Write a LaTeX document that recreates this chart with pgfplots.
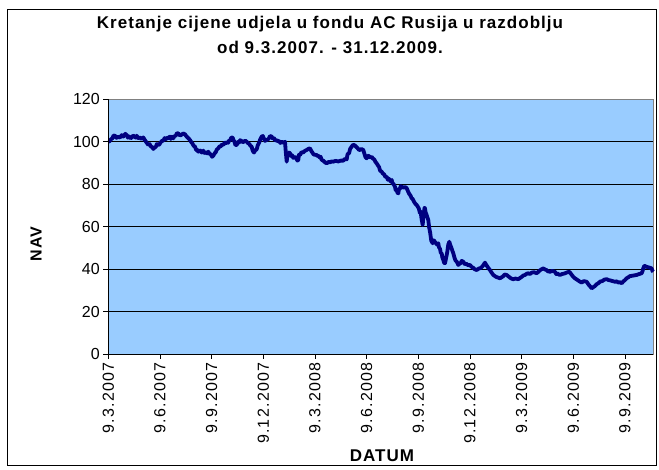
\documentclass[border=0pt]{standalone}
\usepackage{pgfplots}
\pgfplotsset{compat=1.18}
\usepackage{fontspec}
\setmainfont{Liberation Sans}
\definecolor{plotbg}{RGB}{153,204,255}
\definecolor{navyline}{RGB}{0,0,128}
\begin{document}
\begin{tikzpicture}[x=1pt,y=1pt]
\path[use as bounding box] (0,0) rectangle (659,470);
\draw[line width=1pt] (7.5,4) rectangle (656,460);
\node[align=center,font=\fontsize{17}{25}\selectfont\bfseries\addfontfeature{LetterSpace=6}] at (330,435) {Kretanje cijene udjela u fondu AC Rusija u razdoblju\\od 9.3.2007. - 31.12.2009.};
\node[rotate=90,font=\fontsize{16}{19}\selectfont\bfseries\addfontfeature{LetterSpace=6}] at (36,226) {NAV};
\node[font=\fontsize{17}{19}\selectfont\bfseries\addfontfeature{LetterSpace=6}] at (382,14) {DATUM};
\begin{axis}[
  at={(108.3pt,116pt)}, anchor=south west,
  width=545pt, height=255pt, scale only axis,
  xmin=0, xmax=1054.8, ymin=0, ymax=120,
  axis background/.style={fill=plotbg},
  axis line style={draw=gray},
  ymajorgrids, grid style={black, line width=0.8pt},
  ytick={0,20,...,120},
  xtick={0,100,...,1000},
  xticklabels={9.3.2007,9.6.2007,9.9.2007,9.12.2007,9.3.2008,9.6.2008,9.9.2008,9.12.2008,9.3.2009,9.6.2009,9.9.2009},
  xtick pos=bottom, ytick pos=left,
  tick align=outside, major tick length=5pt,
  tick style={black, line width=0.8pt},
  /pgf/number format/assume math mode=true,
  ticklabel style={font=\fontsize{16}{19}\selectfont},
  x tick label style={rotate=90, anchor=east, font=\fontsize{16}{19}\selectfont\addfontfeature{LetterSpace=8}},
  clip=false,
]
\addplot[navyline, line width=3.8pt, line join=round] coordinates {
(0,100) (1.9,100) (5,101) (8,101.5) (10,102.8) (13,102.7) (16,101.7) (18,102.2) (22.6,101.9) (26,103) (29,102.3) (33,103.6) (35.6,103) (38,101.8) (40,102.4) (43,101.5) (45.3,101.9) (48,102.8) (50,102.5) (53,101.8) (55,102.7) (58,101.6) (60,102) (64,101.2) (67.7,101.9) (72,100.2) (75,99.2) (77.4,98.4) (80,98.8) (82,97.8) (85,97.3) (87.1,96.5) (90,97.2) (92,97.5) (94,98.8) (96.8,98.4) (99,98.6) (101,99.5) (104,100.3) (106.4,100.4) (109,101.6) (111,101) (113,101.8) (116.1,101.5) (119,102.3) (121,101.2) (123,102.2) (125.8,101.5) (128,102.7) (130,102.5) (133,103.9) (135.5,103.8) (139,102.8) (142,103.2) (145,103.8) (148.4,103.4) (151,102.5) (153,102) (156,101.3) (158.1,100.7) (161,99.6) (163,99) (165,98) (167.8,97.6) (170,96) (171,96.3) (174.2,95.2) (177,95.9) (179,95.5) (181,94.8) (183.9,95.7) (186,94.6) (188,95) (191,94.4) (193.5,95.2) (196,94.2) (198,94) (201,92.8) (203.2,93.3) (206,94.5) (208,95) (210,96.2) (212.9,96.8) (215,97.6) (218,97.8) (220,98.6) (222.6,98.4) (225,99.4) (227,99) (230,99.8) (232.2,99.4) (234,100.6) (236,100.5) (238,101.9) (240.8,101.8) (242,100.8) (244,100) (246,98.3) (248.5,98.4) (251,99.8) (253,99.5) (255,100.6) (258.2,100.2) (260,99.6) (263,100) (265,100.4) (267.9,99.9) (270,99.3) (273,98.8) (275,98) (277.5,97.6) (279,96) (280.6,95.2) (282,94.8) (284,95.8) (287.2,96.3) (289,98) (292,99.5) (294,101) (296.9,102.3) (299,102.6) (301,101.5) (303,100.3) (306.6,100.7) (309,101) (311,101.5) (313,102.6) (316.2,102.3) (319,101.2) (321,101.5) (323,100.4) (325.9,100.7) (328,100.1) (331,100.2) (333,99.3) (335.6,99.9) (339,99.4) (342,99.9) (343.5,95) (345.3,90.5) (347,94.5) (348,93) (350,94.8) (351.7,94.4) (354,93.2) (356,93.5) (358,92.3) (361.3,92.8) (364,92) (366,91) (367.7,91.3) (369,93.8) (371,93.6) (374,95) (377,94.8) (380,95.5) (384,96) (387,96.5) (390.4,96.8) (393,95.5) (396.8,94.1) (400,93.6) (402,93.9) (404.5,93.2) (407,93.3) (409,92.5) (411,92.8) (413,91.3) (416,91) (418,90.5) (420,90.1) (422.7,89.7) (426,90.4) (429,90.2) (432,90.6) (435.5,90.5) (440,90.9) (445,90.6) (450,91) (454.8,91) (458,91.8) (461.4,91.6) (463,94) (466,94.5) (468,96.5) (471.1,97.6) (474,98.5) (477.5,98.1) (480,97.4) (482,97) (485,96.1) (487.1,96) (490,96.5) (493.5,96) (496,94) (498,92.5) (500.1,92.1) (503,93.3) (505,93) (507,92.4) (509.8,92.8) (512,92) (515,91.5) (517,90.4) (519.5,89.7) (522,88.7) (524,88) (526,86.3) (529.1,85.8) (531,85) (534,84.5) (536,83.4) (538.8,83.4) (541,82) (543,82.5) (546,81.3) (548.5,81.9) (550,80.3) (552,80) (554.9,78.7) (556,77.2) (558,77) (560,75.8) (561.3,75.6) (562.5,77.6) (564,77.5) (566,79) (567.8,78.7) (570,78.5) (572,78.2) (575,78.6) (577.5,78) (580,76.6) (582,75.5) (585,74.5) (587.1,73.3) (589,73) (592,71.5) (594,70.8) (596.9,70.1) (599,69.3) (601,68.5) (603,66.4) (604.6,67) (606,64) (608.5,60.7) (609.5,64) (610.5,66) (612,68.8) (612.9,68.6) (614,66.8) (616,65.5) (617.5,64.3) (619.3,63.1) (621,59.5) (623,57) (625,53.3) (627.8,52.1) (630,53.5) (633,52.5) (636,51.5) (638.7,52.1) (640,50.2) (642,49.5) (643.5,47.5) (645.3,47.4) (646.5,45.4) (648,44.5) (650,42.9) (651.6,42.7) (653,44.2) (656,48) (658,51.5) (660,52.8) (662,51.2) (664,50) (666,48.5) (667.7,47.4) (670,45.3) (672,44) (675,43.2) (677.4,41.9) (680,42.5) (682,42.8) (684,43.8) (687.1,43.4) (690,42.2) (693,42.5) (696,41.8) (700,41.9) (703,41) (706,40.6) (709,39.9) (713,39.5) (717,40.2) (721,40.5) (725,41.5) (729,43) (731,42.1) (734,41) (736,40.3) (738.7,39.5) (741,38.6) (745.1,37.2) (748,36.7) (751,36.2) (754,36) (758.1,35.6) (761,36.1) (764,36.5) (767,37.4) (771,37.2) (774,36.6) (777,36) (780,35.5) (783.8,35.2) (788,35.5) (793.5,35.2) (797,35.8) (800,36.3) (803,36.9) (806.5,37.2) (810,37.8) (813,38) (816,37.6) (819.4,38.3) (824,38.5) (829.1,38) (832,38.6) (835,39.3) (838,39.8) (841.9,40.3) (845,39.8) (848,39.5) (851,38.9) (854.9,38.7) (859,39.1) (864.5,38.7) (867,37.6) (869,37.9) (872,37.4) (874.2,37.2) (878,37.6) (883,37.9) (888,38.4) (892.2,38.7) (895,37.9) (897,37.2) (900,36.3) (903.2,35.6) (907,35) (910,34.5) (913,34) (916.2,33.6) (920,34.3) (925.9,34) (928,33.2) (930,32.5) (933,31.7) (935.6,30.9) (939,31.5) (942,32) (945,32.8) (948.4,33.3) (952,34.1) (956,34.3) (960,35) (964.6,35.2) (968,34.8) (972,34.6) (976,34.3) (980.7,34) (984,34.2) (987,33.6) (990,33.8) (993.6,33.3) (997,34.2) (1000,34.8) (1003,35.6) (1006.4,36.1) (1010,36.7) (1014,36.8) (1018,37) (1022.7,37.2) (1027,37.6) (1032.3,38) (1034,39) (1035,40) (1037,41.4) (1038.7,41.4) (1042,41) (1045,40.8) (1048,40.6) (1051.7,40.3) (1053,39.2) (1054.8,38.7)
};
\draw[black, line width=0.8pt] (axis cs:0,0) -- (axis cs:0,120);
\draw[black, line width=0.8pt] (axis cs:0,0) -- (axis cs:1054.8,0);
\end{axis}
\end{tikzpicture}
\end{document}
